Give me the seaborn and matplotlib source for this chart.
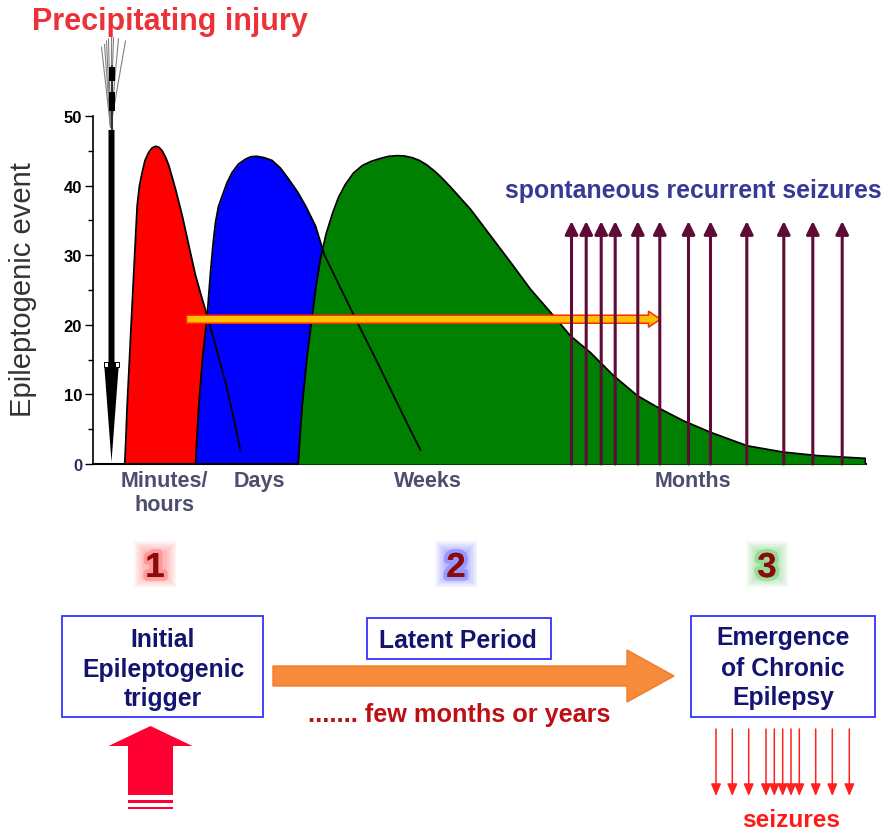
import seaborn as sns
import matplotlib.pyplot as plt
from matplotlib import patheffects as pe
from matplotlib.patches import FancyArrow, Rectangle

# curves (x = time axis units, y = epileptogenic event)
red_x = [32.3, 33.5, 34.7, 36.3, 38, 41.3, 44.7, 47, 49.7, 52.5, 56.3, 59.5, 63, 66.5,
         69.7, 73, 76.3, 83, 89.7, 96.3, 103, 109.7, 114.7, 123, 133, 141.3, 148]
red_y = [0, 4, 8.4, 13, 18, 27.5, 37.1, 40, 41.9, 43.6, 44.8, 45.4, 45.65, 45.5,
         45.0, 44.1, 42.9, 39.5, 35.7, 31.4, 27.1, 23.7, 21.3, 17.0, 11.7, 6.5, 1.9]

blue_x = [103, 104.5, 106.3, 110.3, 114.7, 118, 120.5, 123, 126, 129.7, 134.5, 139.7, 146,
          153, 158.5, 164.7, 172, 179.7, 188, 196.3, 205, 213, 223, 232, 249, 266, 283.5,
          300.5, 317.5, 328]
blue_y = [0, 4, 8.4, 15.6, 21.3, 27.5, 31.5, 34.7, 37, 38.5, 40.4, 41.9, 43.1,
          43.8, 44.15, 44.2, 44.0, 43.6, 42.5, 40.9, 39.1, 37.1, 34.2, 30, 25, 20, 15,
          10, 5, 2]

green_x = [205.7, 207.5, 209.7, 214.7, 219.7, 223.5, 228, 233.5, 240, 246, 253, 261, 270,
           279, 288, 296, 305, 312, 320, 327, 334, 341, 348, 358, 378, 398, 418, 438, 458,
           478, 498, 521, 545, 568, 591, 618, 655, 691, 725, 773, 773]
green_y = [0, 4, 8.4, 15.6, 21.3, 25.5, 29.5, 33, 36, 38.3, 40.2, 41.8, 42.9, 43.5,
           43.9, 44.2, 44.3, 44.25, 44, 43.6, 43, 42.2, 41.3, 39.8, 36.6, 32.8, 29, 25.1,
           21.8, 18.4, 16, 12.7, 9.8, 7.9, 6.2, 4.55, 2.6, 1.7, 1.2, 0.8, 0]

seizure_x = [479, 493.7, 508.7, 522.7, 545.3, 567.3, 596, 618, 654.3, 691.3, 720.3, 749.7]
seizure_top = 34.9

latent_start, latent_end, latent_level = 94, 568, 20.8
injury_x, injury_top = 19, 48

period_x = [72, 167, 335, 600]
period_labels = ["Minutes/\nhours", "Days", "Weeks", "Months"]

# lower scheme
stage_labels = ["1", "2", "3"]
stage_glow = ["#ff4d4d", "#4d4dff", "#4dc04d"]
stage_x = [155, 456, 767]
seizure_marks_x = [716, 732.3, 748.7, 766, 774.3, 782.7, 791, 799.3, 815.7, 832.3, 849.3]

sns.set_theme(style="ticks")
plt.rcParams['font.family'] = ['Liberation Sans', 'DejaVu Sans']

W, H = 892, 837
fig = plt.figure(figsize=(W / 100, H / 100), dpi=100)
ax = fig.add_axes([92.5 / W, (H - 465) / H, 773 / W, 348 / H])
ax.patch.set_alpha(0)

ax.fill_between(red_x, red_y, color="#ff0000", lw=0, zorder=1)
ax.fill_between(blue_x, blue_y, color="#0000ff", lw=0, zorder=2)
ax.fill_between(green_x, green_y, color="#008000", lw=0, zorder=3)
for xs, ys in [(red_x, red_y), (blue_x, blue_y), (green_x, green_y)]:
    sns.lineplot(x=xs, y=ys, ax=ax, color="black", lw=1.3, sort=False,
                 estimator=None, zorder=4)

# latent period arrow
ax.add_patch(FancyArrow(latent_start, latent_level, latent_end - latent_start, 0,
                        width=1.15, head_width=2.3, head_length=12,
                        length_includes_head=True, fc="#ffc000", ec="#ff2a00",
                        lw=1.1, zorder=5))

# spontaneous seizures
for x in seizure_x:
    ax.annotate("", xy=(x, seizure_top), xytext=(x, 0), zorder=6,
                arrowprops=dict(arrowstyle="-|>,head_length=0.65,head_width=0.32",
                                color="#5e0b35", lw=2.2, shrinkA=0, shrinkB=0))

# precipitating injury arrow
ax.add_patch(FancyArrow(injury_x, injury_top, 0, -injury_top + 0.3, width=6,
                        head_width=15, head_length=14.35, length_includes_head=True,
                        color="black", lw=0, zorder=7, clip_on=False))
for x0 in (11.5, 22.5):
    ax.add_patch(Rectangle((x0, 13.9), 3.5, 0.75, fc="white", ec="black", lw=0.7,
                           zorder=8, clip_on=False))
for tx, ty in zip([9, 12, 14, 16, 18, 21, 26, 33],
                  [59.9, 60.3, 60.8, 61.1, 61.8, 61.3, 61.1, 60.8]):
    ax.plot([injury_x - 1, tx], [48.4, ty], color="#808080", lw=0.8, clip_on=False,
            zorder=7)
ax.plot([injury_x, injury_x], [48, 57.2], color="#333333", lw=1.5, clip_on=False,
        zorder=7)
for y0, y1 in [(55.0, 57.0), (50.7, 53.4)]:
    ax.add_patch(Rectangle((injury_x - 3, y0), 6, y1 - y0, color="black", lw=0,
                           zorder=8, clip_on=False))

ax.set_xlim(0, 773)
ax.set_ylim(0, 50)
ax.set_yticks(range(0, 51, 10))
ax.set_yticks(range(5, 50, 10), minor=True)
ax.set_xticks(period_x, labels=period_labels)
sns.despine(ax=ax)
ax.spines["left"].set_linewidth(1.2)
ax.spines["bottom"].set_linewidth(1.5)
ax.spines["left"].set_color("black")
ax.spines["bottom"].set_color("black")
ax.tick_params(axis="y", which="major", length=6, width=1, pad=1.5, labelsize=12,
               color="black", labelcolor="black")
ax.tick_params(axis="y", which="minor", length=3.5, width=1, color="black")
ax.tick_params(axis="x", length=0, pad=4, labelsize=15.5, labelcolor="#4d4d6e")
for lab in ax.get_yticklabels():
    lab.set_fontweight("bold")
ax.get_yticklabels()[0].set_color("#2e2e5a")
for lab in ax.get_xticklabels():
    lab.set_fontweight("bold")
ax.set_ylabel("Epileptogenic event", fontsize=21, color="#333333", va="center")
ax.yaxis.set_label_coords((23 - 92.5) / 773, (465 - 290) / 348)

# overlay in pixel units for the scheme
ov = fig.add_axes([0, 0, 1, 1], zorder=2)
ov.set_xlim(0, W)
ov.set_ylim(H, 0)
ov.set_axis_off()

ov.text(169.5, 30, "Precipitating injury", ha="center", va="baseline", fontsize=22,
        fontweight="bold", color="#ec3238")
ov.text(693.5, 198, "spontaneous recurrent seizures", ha="center", va="baseline",
        fontsize=17.9, fontweight="bold", color="#383896")

# numbered stages with a soft coloured glow
for x, lab, glow in zip(stage_x, stage_labels, stage_glow):
    for s in range(8):
        w, h = 42 - 3 * s, 46 - 3 * s
        ov.add_patch(Rectangle((x - w / 2, 565 - h / 2), w, h, color=glow, lw=0,
                               alpha=0.06))
    ov.text(x, 578, lab, ha="center", va="baseline", fontsize=25, fontweight="bold",
            color="#8b0a0a",
            path_effects=[pe.withStroke(linewidth=6, foreground=glow, alpha=0.3),
                          pe.Normal()])

box_style = dict(fill=False, ec="#3333ff", lw=1.3)
ov.add_patch(Rectangle((62, 617), 201, 101, **box_style))
ov.add_patch(Rectangle((367, 619), 184, 41, **box_style))
ov.add_patch(Rectangle((691, 617), 184, 101, **box_style))

navy = "#141470"
for line, yb in zip(["Initial", "Epileptogenic", "trigger"], [647, 677, 706]):
    ov.text(163, yb, line, ha="center", va="baseline", fontsize=17.8,
            fontweight="bold", color=navy)
for line, yb in zip(["Emergence", "of Chronic", "Epilepsy"], [645, 676, 705]):
    ov.text(783, yb, line, ha="center", va="baseline", fontsize=17.8,
            fontweight="bold", color=navy)
ov.text(458, 648, "Latent Period", ha="center", va="baseline", fontsize=17.8,
        fontweight="bold", color=navy)

ov.add_patch(FancyArrow(273, 677, 401, 0, width=20, head_width=52, head_length=47,
                        length_includes_head=True, fc="#f68b3b", ec="#f37a2a", lw=1))
ov.text(459, 722, "....... few months or years", ha="center", va="baseline",
        fontsize=18.2, fontweight="bold", color="#bd0f14")

ov.add_patch(FancyArrow(150.5, 796, 0, -69, width=45, head_width=84, head_length=20,
                        length_includes_head=True, color="#ff0033", lw=0))
ov.add_patch(Rectangle((128, 800.5), 45, 3.5, color="#ff0033", lw=0))
ov.add_patch(Rectangle((128, 807.5), 45, 2.5, color="#ff0033", lw=0))

for x in seizure_marks_x:
    ov.annotate("", xy=(x, 797), xytext=(x, 730),
                arrowprops=dict(arrowstyle="-|>,head_length=0.6,head_width=0.25",
                                color="#ff2020", lw=1.1, shrinkA=0, shrinkB=0))
ov.text(791, 827, "seizures", ha="center", va="baseline", fontsize=17.6,
        fontweight="bold", color="#ff1a1a")

fig.savefig("out.png", dpi=100)
